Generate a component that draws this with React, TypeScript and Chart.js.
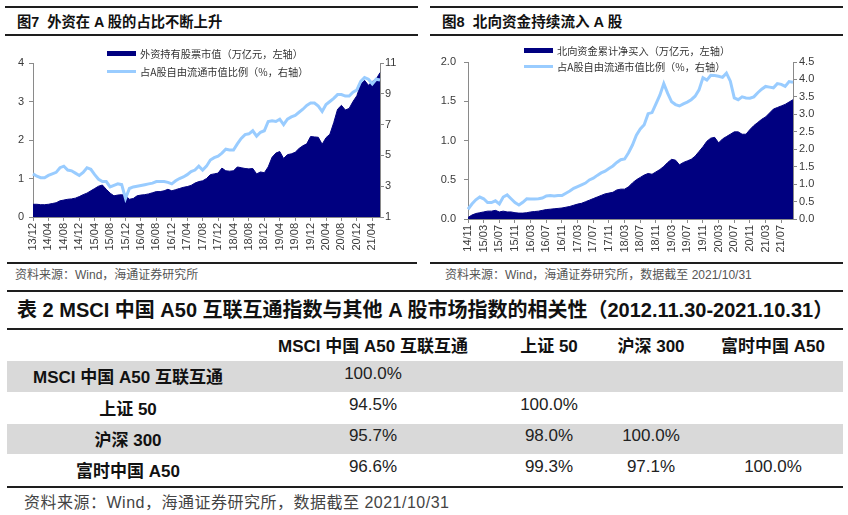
import React, { useEffect, useRef } from "react";
import { Chart, registerables } from "chart.js";

Chart.register(...registerables);

// ---------- Figure 7 data (monthly, starting 2013/12) ----------
const fig7StartYear = 2013;
const fig7StartMonth = 12;
const fig7Holdings = [
  0.33, 0.33, 0.32, 0.32, 0.33, 0.35, 0.37, 0.42, 0.44, 0.46, 0.47, 0.49,
  0.53, 0.58, 0.62, 0.68, 0.74, 0.8, 0.83, 0.72, 0.62, 0.55, 0.57, 0.58,
  0.56, 0.46, 0.48, 0.55, 0.57, 0.58, 0.6, 0.63, 0.66, 0.66, 0.68, 0.72,
  0.68, 0.71, 0.74, 0.77, 0.79, 0.82, 0.88, 0.92, 0.94, 1.0, 1.1, 1.12,
  1.14, 1.27, 1.2, 1.19, 1.2, 1.3, 1.28, 1.26, 1.25, 1.26, 1.12, 1.17,
  1.15, 1.3, 1.55, 1.66, 1.7, 1.52, 1.62, 1.64, 1.68, 1.78, 1.85, 1.9,
  2.09, 2.08, 2.07, 1.89, 2.06, 2.15, 2.45, 2.8, 2.9, 2.78, 2.82, 3.0,
  3.15, 3.45, 3.55, 3.42, 3.52, 3.58, 3.75,
];
const fig7Ratio = [
  3.8, 3.65, 3.55, 3.55, 3.7, 3.8, 3.9, 4.2, 4.3, 4.05, 4.0, 3.85,
  3.7, 3.9, 4.2, 4.1, 3.75, 3.45, 3.3, 3.3, 2.95, 3.05, 3.15, 3.1,
  2.2, 2.85, 2.95, 3.0, 3.05, 3.1, 3.15, 3.2, 3.3, 3.3, 3.3, 3.25,
  3.15, 3.35, 3.5, 3.6, 3.75, 3.95, 4.05, 4.3, 4.05, 4.3, 4.7, 4.85,
  4.95, 5.15, 5.4, 5.35, 5.35, 5.75, 6.1, 6.35, 6.4, 6.6, 6.25, 6.5,
  6.6, 7.2, 7.25, 7.2, 7.35, 7.0, 7.35, 7.5, 7.6, 7.8, 8.0, 8.25,
  8.4, 8.4, 8.2, 7.85, 8.3, 8.5, 8.7, 8.95, 8.95, 8.85, 8.85, 9.1,
  9.25, 9.8, 10.05, 9.95, 9.65, 9.95, 9.9,
];
const fig7LeftTicks = { min: 0, max: 4, step: 1, decimals: 0 };
const fig7RightTicks = { min: 1, max: 11, step: 2, decimals: 0 };

// ---------- Figure 8 data (monthly, starting 2014/11) ----------
const fig8StartYear = 2014;
const fig8StartMonth = 11;
const fig8NetBuy = [
  0.02, 0.05, 0.07, 0.08, 0.09, 0.1, 0.1, 0.11, 0.09, 0.1, 0.09, 0.09,
  0.08, 0.075, 0.075, 0.08, 0.09, 0.095, 0.1, 0.11, 0.12, 0.125, 0.13, 0.135,
  0.14, 0.15, 0.16, 0.175, 0.19, 0.2, 0.22, 0.24, 0.26, 0.28, 0.3, 0.32,
  0.33, 0.34, 0.37, 0.38, 0.38, 0.41, 0.46, 0.5, 0.53, 0.56, 0.58, 0.57,
  0.6, 0.63, 0.67, 0.72, 0.76, 0.75, 0.69, 0.72, 0.74, 0.76, 0.8, 0.86,
  0.92, 0.99, 1.03, 1.04, 0.97, 1.02, 1.05, 1.08, 1.11, 1.11, 1.08, 1.08,
  1.14, 1.19, 1.23, 1.27, 1.3, 1.35, 1.4, 1.42, 1.44, 1.46, 1.49, 1.52,
];
const fig8Ratio = [
  0.28, 0.43, 0.55, 0.63, 0.58, 0.47, 0.47, 0.52, 0.43, 0.63, 0.69, 0.58,
  0.47, 0.4, 0.48, 0.58, 0.57, 0.57, 0.58, 0.6, 0.66, 0.67, 0.66, 0.67,
  0.67, 0.74, 0.8, 0.88, 0.93, 0.98, 1.03, 1.12, 1.17, 1.25, 1.32, 1.37,
  1.45, 1.52, 1.62, 1.7, 1.72, 1.9, 2.12, 2.4, 2.58, 2.7, 3.02, 3.05,
  3.3, 3.55, 3.88, 3.6, 3.36, 3.28, 3.24, 3.3, 3.35, 3.42, 3.52, 3.7,
  4.05, 3.98, 4.12, 4.11, 4.09, 4.06, 4.18, 3.95, 3.47, 3.42, 3.5, 3.47,
  3.46, 3.5, 3.62, 3.72, 3.8, 3.78, 3.76, 3.88, 3.86, 3.8, 3.94, 3.92,
];
const fig8LeftTicks = { min: 0, max: 2, step: 0.5, decimals: 1 };
const fig8RightTicks = { min: 0, max: 4.5, step: 0.5, decimals: 1 };

// ---------- Table 2 data ----------
const tableNames = ["MSCI 中国 A50 互联互通", "上证 50", "沪深 300", "富时中国 A50"];
const corrMSCI = [100.0];
const corrSZ50 = [94.5, 100.0];
const corrHS300 = [95.7, 98.0, 100.0];
const corrFTSE = [96.6, 99.3, 97.1, 100.0];

// ---------- text ----------
const fig7Title = "图7  外资在 A 股的占比不断上升";
const fig8Title = "图8  北向资金持续流入 A 股";
const fig7LegendArea = "外资持有股票市值（万亿元，左轴）";
const fig8LegendArea = "北向资金累计净买入（万亿元，左轴）";
const legendRatio = "占A股自由流通市值比例（%，右轴）";
const fig7Source = "资料来源：Wind，海通证券研究所";
const fig8Source = "资料来源：Wind，海通证券研究所，数据截至 2021/10/31";
const tableTitle = "表 2 MSCI 中国 A50 互联互通指数与其他 A 股市场指数的相关性（2012.11.30-2021.10.31）";
const tableSource = "资料来源：Wind，海通证券研究所，数据截至 2021/10/31";

function monthLabels(y0: number, m0: number, n: number): string[] {
  const out: string[] = [];
  for (let i = 0; i < n; i++) {
    const t = m0 - 1 + i;
    const yy = y0 + Math.floor(t / 12);
    const mm = (t % 12) + 1;
    out.push(String(yy % 100).padStart(2, "0") + "/" + String(mm).padStart(2, "0"));
  }
  return out;
}

const LATIN = "'Liberation Sans', Arial, 'Noto Sans CJK SC', sans-serif";
const CJKF = "'Noto Sans CJK SC', 'Liberation Sans', sans-serif";
const NAVY = "#000080";
const SKY = "#99CCFF";
const AXIS = "#8a8a8a";
const TICK = "#3a3a3a";
const RULE = "#1e1e1e";

type AxisSpec = { min: number; max: number; step: number; decimals: number };
type Box = { left: number; top: number; width: number; height: number };
type Plot = { left: number; right: number; top: number; bottom: number };

function DualChart(props: {
  labels: string[];
  area: number[];
  line: number[];
  leftAxis: AxisSpec;
  rightAxis: AxisSpec;
  box: Box;
  plot: Plot;
  leftPad: number;
  rightPad: number;
}) {
  const ref = useRef<HTMLCanvasElement | null>(null);
  useEffect(() => {
    const { labels, area, line, leftAxis, rightAxis, box, plot, leftPad, rightPad } = props;
    const font = { family: LATIN, size: 11 };
    const gridBase = {
      display: true,
      drawOnChartArea: false,
      drawTicks: true,
      tickLength: 4,
      color: AXIS,
      lineWidth: 1,
    };
    const chart = new Chart(ref.current as HTMLCanvasElement, {
      type: "line",
      data: {
        labels,
        datasets: [
          {
            data: line,
            yAxisID: "y1",
            borderColor: SKY,
            borderWidth: 3,
            pointRadius: 0,
            fill: false,
            tension: 0,
          },
          {
            data: area,
            yAxisID: "y",
            borderColor: NAVY,
            backgroundColor: NAVY,
            borderWidth: 1,
            pointRadius: 0,
            fill: "origin",
            tension: 0,
          },
        ],
      },
      options: {
        responsive: false,
        animation: false,
        events: [],
        layout: { padding: { top: plot.top - box.top, left: 0, right: 0, bottom: 0 } },
        plugins: { legend: { display: false }, tooltip: { enabled: false } },
        scales: {
          x: {
            type: "category",
            offset: false,
            grid: {
              ...gridBase,
              offset: false,
              color: (ctx: any) => (ctx.index % 4 === 0 ? AXIS : "rgba(0,0,0,0)"),
            },
            border: { display: true, color: AXIS, width: 1 },
            ticks: {
              autoSkip: false,
              maxRotation: 90,
              minRotation: 90,
              padding: 2,
              font,
              color: TICK,
              callback: (_v: any, i: number) => (i % 4 === 0 ? labels[i] : ""),
            },
            afterFit: (s: any) => {
              s.height = box.top + box.height - plot.bottom;
            },
          },
          y: {
            position: "left",
            min: leftAxis.min,
            max: leftAxis.max,
            grid: gridBase,
            border: { display: true, color: AXIS, width: 1 },
            ticks: {
              stepSize: leftAxis.step,
              padding: leftPad,
              font,
              color: TICK,
              callback: (v: any) => Number(v).toFixed(leftAxis.decimals),
            },
            afterFit: (s: any) => {
              s.width = plot.left - box.left;
            },
          },
          y1: {
            position: "right",
            min: rightAxis.min,
            max: rightAxis.max,
            grid: gridBase,
            border: { display: true, color: AXIS, width: 1 },
            ticks: {
              stepSize: rightAxis.step,
              padding: rightPad,
              font,
              color: TICK,
              callback: (v: any) => Number(v).toFixed(rightAxis.decimals),
            },
            afterFit: (s: any) => {
              s.width = box.left + box.width - plot.right;
            },
          },
        },
      } as any,
    });
    return () => chart.destroy();
  }, []);
  const { box } = props;
  return (
    <canvas
      ref={ref}
      width={box.width}
      height={box.height}
      style={{ position: "absolute", left: box.left, top: box.top, width: box.width, height: box.height }}
    />
  );
}

function Rule(p: { x1: number; x2: number; y: number; h?: number }) {
  return (
    <div
      style={{
        position: "absolute",
        left: p.x1,
        top: p.y,
        width: p.x2 - p.x1,
        height: p.h ?? 2,
        background: RULE,
      }}
    />
  );
}

function Txt(p: {
  x: number;
  cy: number;
  text: string;
  size: number;
  bold?: boolean;
  color?: string;
  family?: string;
  center?: boolean;
  ls?: number;
}) {
  const lh = Math.round(p.size * 1.3);
  const base: React.CSSProperties = {
    position: "absolute",
    top: p.cy - lh / 2,
    height: lh,
    lineHeight: lh + "px",
    fontSize: p.size,
    fontWeight: p.bold ? 700 : 400,
    color: p.color ?? "#111",
    fontFamily: p.family ?? LATIN,
    whiteSpace: "pre",
    letterSpacing: p.ls ?? 0,
  };
  if (p.center) {
    return <div style={{ ...base, left: p.x - 200, width: 400, textAlign: "center" }}>{p.text}</div>;
  }
  return <div style={{ ...base, left: p.x }}>{p.text}</div>;
}

function LegendBox(p: { x: number; cy: number; h: number; color: string }) {
  return (
    <div
      style={{ position: "absolute", left: p.x, top: p.cy - p.h / 2, width: 29, height: p.h, background: p.color }}
    />
  );
}

export default function App() {
  const fig7Labels = monthLabels(fig7StartYear, fig7StartMonth, fig7Holdings.length);
  const fig8Labels = monthLabels(fig8StartYear, fig8StartMonth, fig8NetBuy.length);

  const corrRows = [corrMSCI, corrSZ50, corrHS300, corrFTSE];
  const colCenters = [373, 549, 651, 773];
  const rowTops = [361, 392, 424, 454];
  const rowHeights = [31, 32, 30, 32];

  return (
    <div
      style={{
        position: "absolute",
        left: 0,
        top: 0,
        width: 848,
        height: 515,
        background: "#fff",
        overflow: "hidden",
      }}
    >
      {/* Figure headers */}
      <Rule x1={5} x2={418} y={6} />
      <Rule x1={430} x2={843} y={6} />
      <Txt x={17} cy={22} text={fig7Title} size={14.3} bold family={LATIN} />
      <Txt x={442} cy={22} text={fig8Title} size={14.6} bold family={LATIN} />
      <Rule x1={5} x2={418} y={34} />
      <Rule x1={430} x2={843} y={34} />

      {/* Charts */}
      <DualChart
        labels={fig7Labels}
        area={fig7Holdings}
        line={fig7Ratio}
        leftAxis={fig7LeftTicks}
        rightAxis={fig7RightTicks}
        box={{ left: 0, top: 40, width: 425, height: 215 }}
        plot={{ left: 33, right: 380, top: 63, bottom: 217 }}
        leftPad={5}
        rightPad={1}
      />
      <DualChart
        labels={fig8Labels}
        area={fig8NetBuy}
        line={fig8Ratio}
        leftAxis={fig8LeftTicks}
        rightAxis={fig8RightTicks}
        box={{ left: 425, top: 40, width: 423, height: 215 }}
        plot={{ left: 468, right: 793, top: 62, bottom: 219 }}
        leftPad={8}
        rightPad={2}
      />

      {/* Legends */}
      <LegendBox x={107} cy={53} h={5} color={NAVY} />
      <Txt x={140} cy={53} text={fig7LegendArea} size={10.2} color="#333" family={CJKF} />
      <LegendBox x={107} cy={71} h={3} color={SKY} />
      <Txt x={140} cy={71} text={legendRatio} size={10.2} color="#333" family={CJKF} />

      <LegendBox x={524} cy={50} h={5} color={NAVY} />
      <Txt x={557} cy={50} text={fig8LegendArea} size={10.2} color="#333" family={CJKF} />
      <LegendBox x={524} cy={66} h={3} color={SKY} />
      <Txt x={557} cy={66} text={legendRatio} size={10.2} color="#333" family={CJKF} />

      {/* Sources under charts */}
      <Rule x1={7} x2={417} y={262} />
      <Rule x1={430} x2={843} y={262} />
      <Txt x={15} cy={275} text={fig7Source} size={12} color="#555" />
      <Txt x={445} cy={275} text={fig8Source} size={12} color="#555" />

      {/* Table title */}
      <Rule x1={7} x2={843} y={290} h={2} />
      <Txt x={17} cy={310} text={tableTitle} size={20} bold color="#111" />
      <Rule x1={7} x2={843} y={328} h={2} />

      {/* Table header */}
      {tableNames.map((n, j) => (
        <Txt key={"h" + j} x={colCenters[j]} cy={347} text={n} size={17} bold center />
      ))}

      {/* Table rows */}
      {corrRows.map((row, i) => (
        <React.Fragment key={"r" + i}>
          {i % 2 === 0 && (
            <div
              style={{
                position: "absolute",
                left: 7,
                top: rowTops[i],
                width: 836,
                height: rowHeights[i],
                background: "#d9d9d9",
              }}
            />
          )}
          <Txt x={128} cy={rowTops[i] + rowHeights[i] / 2 + 1.5} text={tableNames[i]} size={17} bold center />
          {row.map((v, j) => (
            <Txt
              key={"c" + j}
              x={colCenters[j]}
              cy={rowTops[i] + rowHeights[i] / 2 - 3}
              text={v.toFixed(1) + "%"}
              size={17}
              color="#222"
              center
            />
          ))}
        </React.Fragment>
      ))}
      <Rule x1={7} x2={843} y={486} h={2} />
      <Txt x={24} cy={502} text={tableSource} size={16} color="#444" ls={0.5} />
    </div>
  );
}
